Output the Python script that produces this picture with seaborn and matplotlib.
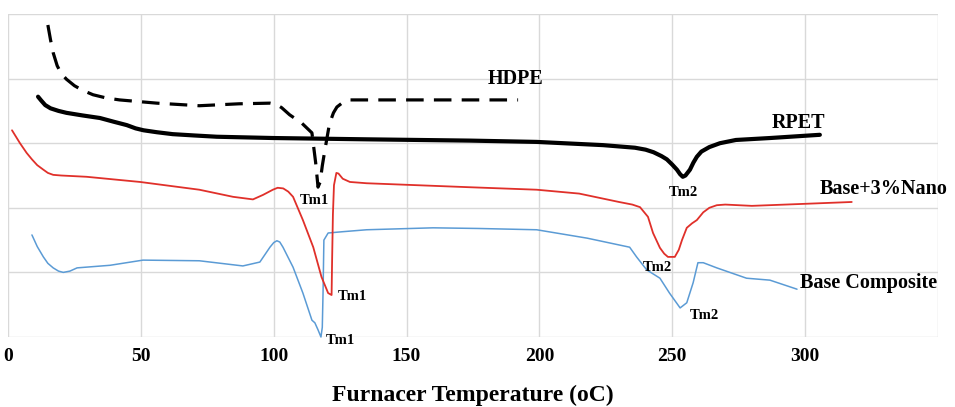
import numpy as np
import pandas as pd
import seaborn as sns
import matplotlib.pyplot as plt

# DSC traces (temperature in oC, heat flow arb. units)
hdpe_t = [15, 16, 17, 18.5, 20, 22, 25, 28, 32, 37, 42, 56, 72, 87, 98.6, 101, 103, 106,
          110.6, 114.4, 115.8, 116.7, 117.5, 118.3, 119.3, 121, 122.5, 123.8, 126, 128.7,
          135, 160, 192]
hdpe_y = [4.83, 4.6, 4.4, 4.2, 4.08, 3.99, 3.89, 3.82, 3.75, 3.7, 3.67, 3.62, 3.58, 3.61,
          3.62, 3.6, 3.55, 3.44, 3.31, 3.16, 2.7, 2.32, 2.4, 2.65, 2.9, 3.3, 3.47, 3.56,
          3.63, 3.67, 3.67, 3.67, 3.67]

rpet_t = [11.3, 12.5, 14, 16, 19, 22, 28, 34.6, 40, 44.7, 48, 51, 56, 62, 70, 78.6, 100,
          135, 174, 199, 224, 236, 240, 243, 246, 248, 250, 251.8, 253, 254, 255, 256.7,
          258, 259.3, 261, 264, 268, 274, 286.8, 305.6]
rpet_y = [3.72, 3.66, 3.59, 3.54, 3.5, 3.47, 3.43, 3.39, 3.33, 3.28, 3.23, 3.2, 3.17, 3.14,
          3.12, 3.1, 3.08, 3.06, 3.04, 3.02, 2.97, 2.93, 2.9, 2.86, 2.8, 2.75, 2.67, 2.59,
          2.52, 2.48, 2.5, 2.59, 2.7, 2.79, 2.87, 2.94, 3.0, 3.05, 3.08, 3.13]

nano_t = [1.5, 3, 4.5, 7, 9, 11, 13.3, 15, 17, 20, 29.6, 49.7, 72, 84.7, 92.2, 96, 99.7,
          101.5, 103.6, 105.5, 107.3, 111, 114.9, 118, 120.5, 121.8, 122.0, 122.3, 122.7,
          123.6, 124.4, 126, 128.7, 135, 172.7, 199, 215, 230, 235, 237.9, 240.9, 242.8,
          245.4, 247, 248.4, 251, 252.5, 253.7, 255.5, 257.5, 259.3, 261.7, 264, 266.8, 270,
          280, 299, 317.6]
nano_y = [3.2, 3.1, 3.0, 2.85, 2.75, 2.66, 2.59, 2.54, 2.51, 2.5, 2.48, 2.4, 2.28, 2.17,
          2.13, 2.2, 2.28, 2.31, 2.3, 2.25, 2.17, 1.81, 1.39, 0.93, 0.68, 0.65, 1.2, 1.9,
          2.35, 2.54, 2.53, 2.45, 2.4, 2.38, 2.32, 2.28, 2.22, 2.09, 2.05, 2.01, 1.86, 1.61,
          1.38, 1.29, 1.24, 1.24, 1.35, 1.5, 1.69, 1.76, 1.81, 1.93, 2.0, 2.04, 2.05,
          2.03, 2.06, 2.09]

base_t = [9, 11, 13.3, 15, 17, 19, 20.8, 23.3, 26, 38.4, 50.8, 72, 88.4, 94.8, 98.6, 100,
          101.2, 102.3, 103.5, 107.3, 111, 114.4, 115.5, 116.7, 117.8, 118.3, 118.6, 118.9,
          120.5, 126, 135, 160, 177, 199, 218, 234, 236.6, 240.4, 245.4, 249, 253, 255.5,
          257.9, 259.7, 261.7, 266.8, 278, 286.8, 297]
base_y = [1.58, 1.4, 1.24, 1.14, 1.07, 1.02, 1.0, 1.02, 1.07, 1.11, 1.19, 1.18, 1.1, 1.16,
          1.39, 1.46, 1.49, 1.47, 1.39, 1.08, 0.68, 0.26, 0.22, 0.11, 0.0, 0.15, 0.72, 1.5,
          1.61, 1.63, 1.66, 1.69, 1.68, 1.66, 1.53, 1.39, 1.24, 1.04, 0.91, 0.68, 0.45, 0.53,
          0.84, 1.15, 1.15, 1.07, 0.91, 0.88, 0.74]

xticks = [0, 50, 100, 150, 200, 250, 300, 350]
xtick_labels = ["0", "50", "100", "150", "200", "250", "300", ""]

sns.set_theme(style="white")
plt.rcParams["font.family"] = ["Liberation Serif", "DejaVu Serif"]
plt.rcParams["font.weight"] = "bold"
plt.rcParams["text.color"] = "black"
plt.rcParams["xtick.labelcolor"] = "black"
plt.rcParams["axes.labelcolor"] = "black"

fig = plt.figure(figsize=(9.55, 4.07), dpi=100)
ax = fig.add_axes([0.0084, 0.172, 0.9736, 0.7936])

grid_col = "#d9d9d9"

sns.lineplot(x=base_t, y=base_y, ax=ax, color="#5b9bd5", lw=1.1, sort=False, estimator=None)
sns.lineplot(x=nano_t, y=nano_y, ax=ax, color="#e0302a", lw=1.3, sort=False, estimator=None)
sns.lineplot(x=rpet_t, y=rpet_y, ax=ax, color="black", lw=3.0, sort=False, estimator=None)
sns.lineplot(x=hdpe_t, y=hdpe_y, ax=ax, color="black", lw=2.3, sort=False, estimator=None,
             linestyle=(0, (5.5, 3.2)))

for ln in ax.get_lines():
    ln.set_clip_on(False)
    ln.set_solid_joinstyle("round")
    ln.set_dash_joinstyle("round")

ax.set_xlim(0, 350)
ax.set_ylim(0, 5)
ax.set_xticks(xticks)
ax.set_xticklabels(xtick_labels, fontsize=14, fontweight="bold")
ax.set_yticks([0, 1, 2, 3, 4, 5])
ax.set_yticklabels([])
ax.grid(True, color=grid_col, lw=1.0)
ax.set_axisbelow(True)
ax.tick_params(axis="x", which="major", length=0, pad=8)
ax.tick_params(axis="y", length=0)
ax.set_xticks([0, 350], minor=True)
ax.tick_params(axis="x", which="minor", length=18, width=1.0, color=grid_col, direction="out")
for sp in ax.spines.values():
    sp.set_visible(False)

ax.set_xlabel("Furnacer Temperature (oC)", fontsize=17, fontweight="bold", labelpad=14)
ax.set_ylabel("")

big = dict(fontsize=14.5, fontweight="bold", va="center", ha="left")
small = dict(fontsize=10.5, fontweight="bold", va="center", ha="center")
ax.text(180.7, 3.99, "HDPE", **big)
ax.text(287.5, 3.31, "RPET", **big)
ax.text(305.6, 2.29, "Base+3%Nano", **big)
ax.text(298, 0.84, "Base Composite", **big)
ax.text(115.2, 2.12, "Tm1", **small)
ax.text(254.4, 2.23, "Tm2", **small)
ax.text(129.8, 0.62, "Tm1", **small)
ax.text(244.3, 1.07, "Tm2", **small)
ax.text(125.0, -0.05, "Tm1", **small)
ax.text(262.3, 0.34, "Tm2", **small)

fig.savefig("out.png", dpi=100)
